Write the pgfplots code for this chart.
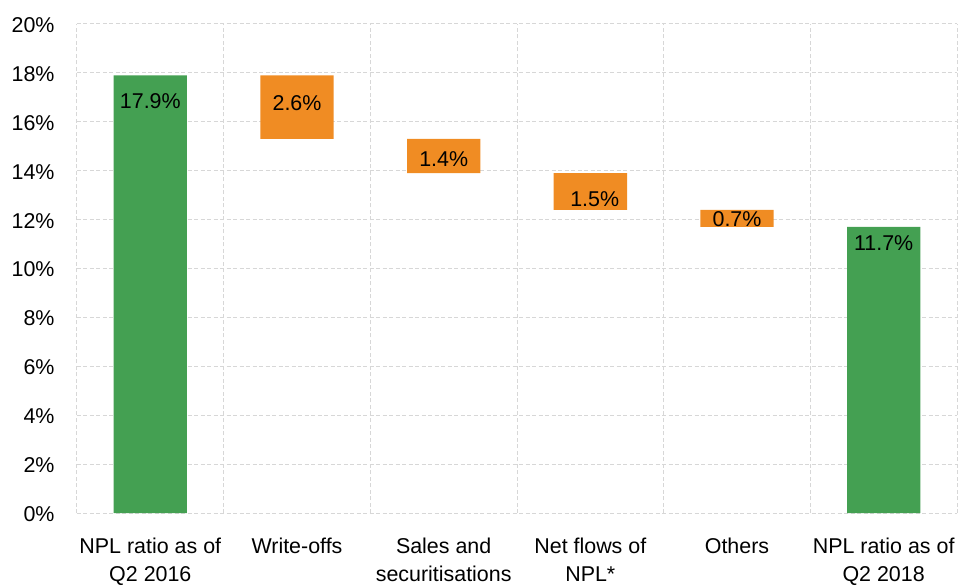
\documentclass[border=0pt]{standalone}
\usepackage{fontspec}
\setmainfont{Liberation Sans}
\usepackage{pgfplots}
\pgfplotsset{compat=1.18}
\definecolor{barGreen}{RGB}{68,160,82}
\definecolor{barOrange}{RGB}{240,140,35}
\definecolor{gridGray}{RGB}{215,215,215}
\begin{document}
\begin{tikzpicture}
\pgfplotsset{
  common/.style={
    scale only axis, width=880bp, height=489bp,
    xmin=-0.5, xmax=5.5, ymin=0, ymax=20,
    font=\fontsize{21.5}{29}\selectfont,
    /pgf/number format/assume math mode=true,
  }
}
\begin{axis}[common,
  ybar stacked, bar width=0.5,
  axis line style={draw=none},
  xtick={0,1,2,3,4,5},
  xticklabels={{NPL ratio as of\\Q2 2016},{Write-offs},{Sales and\\securitisations},{Net flows of\\NPL*},{Others},{NPL ratio as of\\Q2 2018}},
  xticklabel style={align=center, yshift=-21bp},
  minor xtick={-0.5,0.5,1.5,2.5,3.5,4.5,5.5},
  xminorgrids=true, xmajorgrids=false,
  ytick={0,2,...,20},
  yticklabel={\pgfmathprintnumber{\tick}\%},
  yticklabel style={xshift=-19bp, yshift=-1bp},
  ymajorgrids=true,
  major tick length=0pt, minor tick length=0pt,
  grid style={gridGray, line width=1bp, dash pattern=on 4bp off 2.5bp},
  minor grid style={gridGray, line width=1bp, dash pattern=on 4bp off 2.5bp},
]
% invisible base
\addplot[draw=none, fill=none] coordinates {(0,0) (1,15.3) (2,13.9) (3,12.4) (4,11.7) (5,0)};
% totals
\addplot[draw=none, fill=barGreen] coordinates {(0,17.9) (1,0) (2,0) (3,0) (4,0) (5,11.7)};
% changes
\addplot[draw=none, fill=barOrange] coordinates {(0,0) (1,2.6) (2,1.4) (3,1.5) (4,0.7) (5,0)};
\end{axis}
\begin{axis}[common, hide axis]
\addplot[draw=none, mark=none, nodes near coords, point meta=explicit symbolic,
  every node near coord/.append style={anchor=center, inner sep=0pt, font=\fontsize{21.5}{29}\selectfont}]
  coordinates {(0,16.85)[17.9\%] (1,16.77)[2.6\%] (2,14.48)[1.4\%] (3.03,12.84)[1.5\%] (4,12.02)[0.7\%] (5,11.04)[11.7\%]};
\end{axis}
\pgfresetboundingbox
\path[use as bounding box] (-77bp,-74bp) rectangle (883bp,513bp);
\end{tikzpicture}
\end{document}
